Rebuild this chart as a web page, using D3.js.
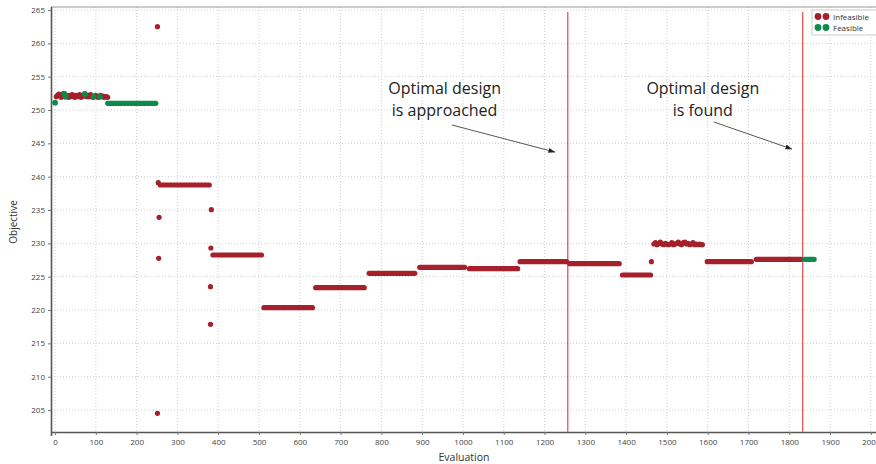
<!DOCTYPE html>
<html><head><meta charset="utf-8">
<script src="https://cdn.jsdelivr.net/npm/d3@7/dist/d3.min.js"></script>
<style>html,body{margin:0;padding:0;background:#fff;overflow:hidden}</style>
</head><body>
<svg id="c" width="876" height="464"></svg>
<script>
// ---- data ----
const xTicks = d3.range(0, 2001, 100);
const yTicks = d3.range(205, 266, 5);
// constant runs of evaluations: start, end, objective, status
const runStart  = [129, 258, 387, 512, 639, 770, 894, 1016, 1140, 1262, 1391, 1599, 1719, 1838];
const runEnd    = [247, 378, 506, 631, 758, 882, 1004, 1134, 1254, 1383, 1460, 1707, 1830, 1861];
const runValue  = [251.0, 238.75, 228.25, 220.35, 223.35, 225.5, 226.4, 226.2, 227.25, 226.95, 225.25, 227.25, 227.6, 227.6];
const runStatus = ["F","I","I","I","I","I","I","I","I","I","I","I","I","F"];
// individual infeasible points [evaluation, objective]
const infeasiblePts = [
 [3,252.0],[6,252.2],[9,252.4],[12,252.1],[15,251.9],[18,252.3],[21,252.5],[24,252.0],[27,252.2],[30,252.1],
 [33,251.9],[36,252.2],[39,252.0],[42,252.3],[45,252.1],[48,251.9],[51,252.2],[54,252.0],[57,252.1],[60,252.3],
 [63,251.9],[66,252.0],[69,252.2],[72,252.4],[75,252.1],[78,252.0],[81,252.2],[84,252.0],[87,252.3],[90,252.1],
 [93,251.9],[96,252.0],[99,252.2],[102,252.1],[105,251.9],[108,252.0],[111,252.2],[114,252.0],[117,252.1],[120,251.9],
 [123,252.0],[126,252.0],[129,251.9],
 [251,262.5],[251,204.5],[253,239.1],[255,233.9],[254,227.75],
 [383,235.05],[382,229.3],[381,223.5],[381,217.85],
 [1462,227.25],
 [1468,229.9],[1472,230.1],[1476,229.8],[1480,230.0],[1484,230.2],[1488,229.9],[1492,229.8],[1496,230.0],
 [1500,229.9],[1504,229.8],[1508,229.9],[1512,230.1],[1516,229.8],[1520,229.9],[1524,230.0],[1528,230.2],
 [1532,229.9],[1536,229.8],[1540,230.1],[1544,230.2],[1548,229.9],[1552,230.0],[1556,229.8],[1560,229.9],
 [1564,230.1],[1568,229.8],[1572,229.9],[1576,229.8],[1580,229.9],[1584,229.8],[1587,229.8]
];
const feasiblePts = [[0,251.1],[23,252.4],[26,252.0],[73,252.4],[94,252.0],[110,252.0]];
const markerEvals = [1257, 1833];
const annotations = [
 {lines:["Optimal design","is approached"], at:[955, 252.4], from:[973, 247.75], to:[1225, 243.7]},
 {lines:["Optimal design","is found"], at:[1588, 252.4], from:[1615, 248.2], to:[1806, 244.15]}
];
const legendItems = [["Infeasible","I"],["Feasible","F"]];

// ---- chart ----
const color = {I:"#a5202a", F:"#0e8a4b"};
const svg = d3.select("#c");
const L = 51, T = 7, B = 432, R = 879;
const x = d3.scaleLinear().domain([-10, 2020]).range([L, R]);
const y = d3.scaleLinear().domain([201.7, 265.45]).range([B, T]);
const font = "'Open Sans', 'DejaVu Sans', sans-serif";

// grid
svg.append("g").selectAll("line").data(xTicks).join("line")
  .attr("x1", d=>x(d)).attr("x2", d=>x(d)).attr("y1", T).attr("y2", B)
  .attr("stroke", "#cfcfcf").attr("stroke-width", 1).attr("stroke-dasharray", "1,2");
svg.append("g").selectAll("line").data(yTicks).join("line")
  .attr("x1", L).attr("x2", R).attr("y1", d=>y(d)).attr("y2", d=>y(d))
  .attr("stroke", "#cfcfcf").attr("stroke-width", 1).attr("stroke-dasharray", "1,2");

// frame top
svg.append("line").attr("x1", L).attr("x2", 876).attr("y1", T).attr("y2", T)
  .attr("stroke", "#9a9a9a").attr("stroke-width", 1.2);

// axes
const xAxis = svg.append("g").attr("transform", `translate(0,${B})`)
  .call(d3.axisBottom(x).tickValues(xTicks).tickSize(3).tickFormat(d3.format("d")));
const yAxis = svg.append("g").attr("transform", `translate(${L},0)`)
  .call(d3.axisLeft(y).tickValues(yTicks).tickSize(3).tickFormat(d3.format("d")));
[xAxis, yAxis].forEach(g => {
  g.select(".domain").attr("stroke", "#555").attr("stroke-width", 1.6);
  g.selectAll(".tick line").attr("stroke", "#777");
  g.selectAll(".tick text").attr("fill", "#444").style("font-family", font).style("font-size", "8px");
});
xAxis.select(".domain").attr("d", `M${L},0.5H${R}`);
yAxis.select(".domain").attr("d", `M0.5,${T}V${B+4}`);
xAxis.selectAll(".tick text").attr("dy", "0.9em");
yAxis.selectAll(".tick text").attr("x", -6);

// vertical markers
svg.append("g").selectAll("line").data(markerEvals).join("line")
  .attr("x1", d=>x(d)).attr("x2", d=>x(d)).attr("y1", 12).attr("y2", B)
  .attr("stroke", "#e0474c").attr("stroke-width", 1.2);

// runs
const runs = runStart.map((s,i)=>({s, e:runEnd[i], v:runValue[i], c:runStatus[i]}));
const r = 2.6;
svg.append("g").selectAll("line").data(runs).join("line")
  .attr("x1", d=>x(d.s)).attr("x2", d=>x(d.e)).attr("y1", d=>y(d.v)).attr("y2", d=>y(d.v))
  .attr("stroke", d=>color[d.c]).attr("stroke-width", 2*r).attr("stroke-linecap", "round");

// points
svg.append("g").selectAll("circle").data(infeasiblePts).join("circle")
  .attr("cx", d=>x(d[0])).attr("cy", d=>y(d[1])).attr("r", r).attr("fill", color.I);
svg.append("g").selectAll("circle").data(feasiblePts).join("circle")
  .attr("cx", d=>x(d[0])).attr("cy", d=>y(d[1])).attr("r", r+0.3).attr("fill", color.F);

// axis titles
svg.append("text").attr("x", 464).attr("y", 461).attr("text-anchor", "middle")
  .style("font-family", font).style("font-size", "10.5px").attr("fill", "#333").text("Evaluation");
svg.append("text").attr("transform", "translate(17,222) rotate(-90)").attr("text-anchor", "middle")
  .style("font-family", font).style("font-size", "10px").attr("fill", "#333").text("Objective");

// annotations
svg.append("defs").append("marker").attr("id", "arr").attr("viewBox", "0 0 10 10")
  .attr("refX", 9).attr("refY", 5).attr("markerWidth", 7).attr("markerHeight", 7).attr("orient", "auto")
  .append("path").attr("d", "M0,1.5L10,5L0,8.5Z").attr("fill", "#222");
annotations.forEach(a => {
  a.lines.forEach((ln, i) => svg.append("text").attr("text-anchor", "middle")
    .style("font-family", font).style("font-size", "16px").attr("fill", "#222")
    .attr("x", x(a.at[0])).attr("y", y(a.at[1]) + i*22).text(ln));
  svg.append("line").attr("x1", x(a.from[0])).attr("y1", y(a.from[1]))
    .attr("x2", x(a.to[0])).attr("y2", y(a.to[1]))
    .attr("stroke", "#555").attr("stroke-width", 1).attr("marker-end", "url(#arr)");
});

// legend
const lg = svg.append("g").attr("transform", "translate(812,10)");
lg.append("rect").attr("width", 66).attr("height", 25).attr("fill", "#fff").attr("stroke", "#ccc");
legendItems.forEach((it, i) => {
  const gy = 6.5 + i*11;
  lg.append("circle").attr("cx", 6).attr("cy", gy).attr("r", 3.4).attr("fill", color[it[1]]);
  lg.append("circle").attr("cx", 14).attr("cy", gy).attr("r", 3.4).attr("fill", color[it[1]]);
  lg.append("text").attr("x", 21).attr("y", gy + 3).style("font-family", font).style("font-size", "8px")
    .attr("fill", "#333").text(it[0]);
});
</script>
</body></html>
